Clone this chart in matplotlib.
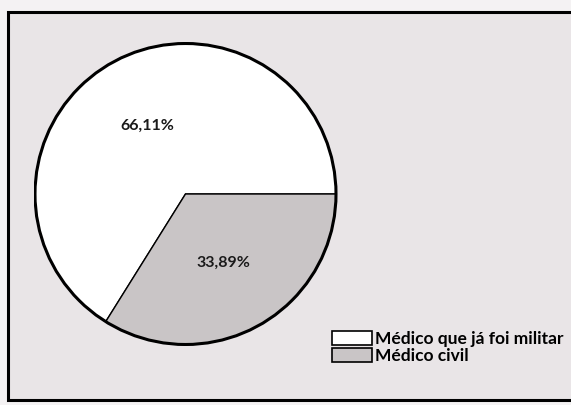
import matplotlib
matplotlib.use("Agg")
import matplotlib.pyplot as plt
from matplotlib.patches import Rectangle, Patch, Circle

categories = ["Médico que já foi militar", "Médico civil"]
values = [66.11, 33.89]
colors = ["#ffffff", "#c9c5c6"]

W, H = 571, 405
fig = plt.figure(figsize=(W / 100, H / 100), dpi=100)
fig.patch.set_facecolor("#f4f2f3")

# framed panel
fig.patches.append(Rectangle((8 / W, 1 - 400 / H), 1.0, (400 - 12) / H,
                             transform=fig.transFigure, facecolor="#e9e5e7",
                             edgecolor="black", linewidth=2.2, zorder=0))

ax = fig.add_axes([33.5 / W, 1 - 347.5 / H, 304 / W, 307 / H])
ax.set_zorder(2)
ax.set_facecolor("none")
wedges, texts, autotexts = ax.pie(
    values, colors=colors, startangle=0, counterclock=True,
    autopct=lambda p: f"{p:.2f}%".replace(".", ","), pctdistance=0.52,
    wedgeprops=dict(edgecolor="black", linewidth=1.0),
    textprops=dict(fontfamily="Lato", fontweight="bold", fontsize=11.5, color="#1a1a1a"))
ax.add_patch(Circle((0, 0), 1.0, fill=False, edgecolor="black", linewidth=2.2, zorder=5))
ax.set_aspect("equal")
ax.set_xlim(-1.01, 1.01)
ax.set_ylim(-1.01, 1.01)

handles = [Patch(facecolor=c, edgecolor="black", linewidth=1.2) for c in colors]
leg = fig.legend(handles, categories, loc="upper left",
                 bbox_to_anchor=(332 / W, 1 - 331 / H), frameon=False,
                 prop=dict(family="Lato", weight="bold", size=12.5),
                 handlelength=2.3, handleheight=0.85, handletextpad=0.15,
                 labelspacing=0.05, borderpad=0, borderaxespad=0)
leg.set_zorder(3)

fig.savefig("out.png", dpi=100, facecolor=fig.get_facecolor())
